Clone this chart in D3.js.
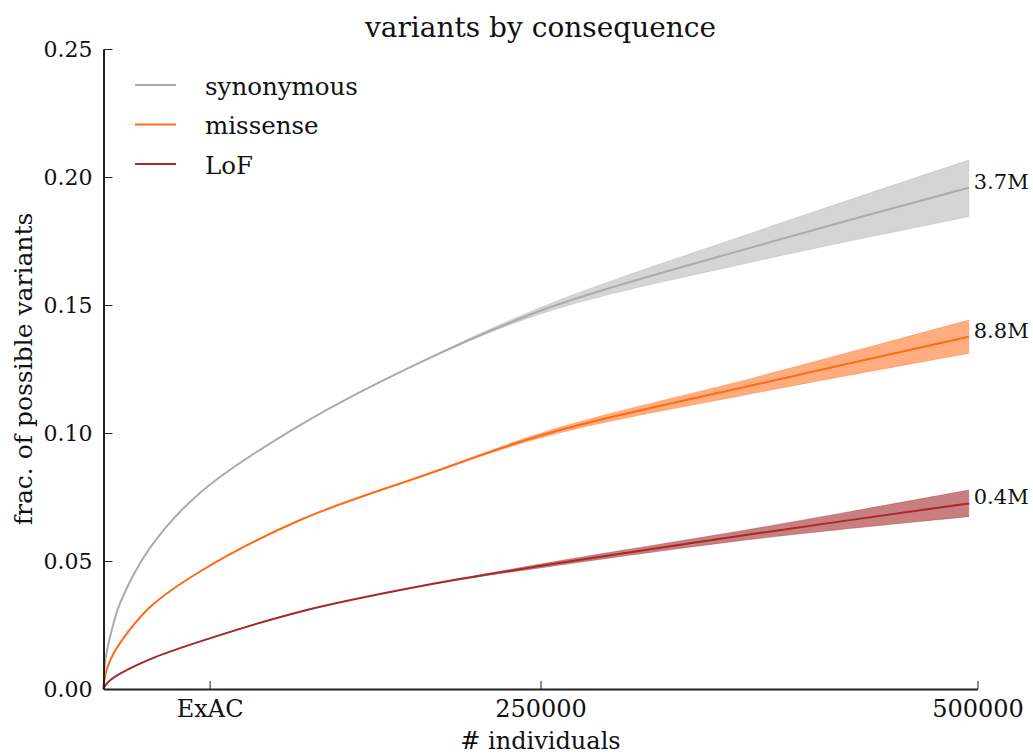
<!DOCTYPE html>
<html>
<head>
<meta charset="utf-8">
<script src="https://cdn.jsdelivr.net/npm/d3@7"></script>
<style>
  body { margin: 0; background: #fff; }
  text { font-family: "DejaVu Serif", serif; fill: #111; }
</style>
</head>
<body>
<div class="canvas"></div>
<script>
// number of individuals sampled
const sizes = [0, 1000, 4000, 9500, 26500, 55000, 112500, 184000, 255000, 375000, 495000]

// fraction of possible variants observed (mid, low, high)
const synMid = [0, 0.0110, 0.0210, 0.0335, 0.0550, 0.0765, 0.1031, 0.1285, 0.1490, 0.1733, 0.1958]
const synLow = [0, 0.0110, 0.0210, 0.0335, 0.0550, 0.0765, 0.1031, 0.1283, 0.1476, 0.1674, 0.1845]
const synHigh = [0, 0.0110, 0.0210, 0.0335, 0.0550, 0.0765, 0.1031, 0.1287, 0.1504, 0.1791, 0.2066]

const misMid = [0, 0.0055, 0.0115, 0.0180, 0.0319, 0.0458, 0.0660, 0.0836, 0.1000, 0.1192, 0.1376]
const misLow = [0, 0.0055, 0.0115, 0.0180, 0.0319, 0.0458, 0.0660, 0.0835, 0.0990, 0.1159, 0.1311]
const misHigh = [0, 0.0055, 0.0115, 0.0180, 0.0319, 0.0458, 0.0660, 0.0837, 0.1010, 0.1221, 0.1441]

const lofMid = [0, 0.0014, 0.0035, 0.0060, 0.0116, 0.0185, 0.0302, 0.0405, 0.0486, 0.0609, 0.0725]
const lofLow = [0, 0.0014, 0.0035, 0.0060, 0.0116, 0.0185, 0.0302, 0.0404, 0.0478, 0.0588, 0.0673]
const lofHigh = [0, 0.0014, 0.0035, 0.0060, 0.0116, 0.0185, 0.0302, 0.0406, 0.0494, 0.0630, 0.0777]

const names = ['synonymous', 'missense', 'LoF']
const endLabels = ['3.7M', '8.8M', '0.4M']

const xTicks = [60706, 250000, 500000]
const yTicks = [0, 0.05, 0.10, 0.15, 0.20, 0.25]

const colours = ['#ababab', '#ff6a14', '#a52a2a']
const bandOpacity = [0.5, 0.55, 0.6]

const series = [
    { name: names[0], mid: synMid, low: synLow, high: synHigh, label: endLabels[0] },
    { name: names[1], mid: misMid, low: misLow, high: misHigh, label: endLabels[1] },
    { name: names[2], mid: lofMid, low: lofLow, high: lofHigh, label: endLabels[2] }
]

const dims = { width: 1033, height: 755 }
const margin = { left: 103.5, right: 55.5, top: 49, bottom: 66 }

const svg = d3.select('.canvas')
    .append('svg')
    .attr('width', dims.width)
    .attr('height', dims.height)

const x = d3.scaleLinear()
    .domain([0, 500000])
    .range([margin.left, dims.width - margin.right])

const y = d3.scaleLinear()
    .domain([0, 0.25])
    .range([dims.height - margin.bottom, margin.top])

const smooth = d3.curveCatmullRom.alpha(0.5)

const line = d3.line()
    .x(d => x(d.n))
    .y(d => y(d.v))
    .curve(smooth)

const area = d3.area()
    .x(d => x(d.n))
    .y0(d => y(d.lo))
    .y1(d => y(d.hi))
    .curve(smooth)

//bands first, then lines on top
series.forEach((s, i) => {
    const pts = sizes.map((n, j) => ({ n, v: s.mid[j], lo: s.low[j], hi: s.high[j] }))

    svg.append('path')
        .attr('d', area(pts))
        .attr('fill', colours[i])
        .attr('fill-opacity', bandOpacity[i])
        .attr('stroke', colours[i])
        .attr('stroke-opacity', 0.4)
        .attr('stroke-width', 0.8)
})

series.forEach((s, i) => {
    const pts = sizes.map((n, j) => ({ n, v: s.mid[j] }))

    svg.append('path')
        .attr('d', line(pts))
        .attr('fill', 'none')
        .attr('stroke', colours[i])
        .attr('stroke-width', 2)

    const last = pts[pts.length - 1]
    svg.append('text')
        .attr('x', x(last.n) + 5)
        .attr('y', y(last.v) + 1)
        .attr('font-size', 21)
        .text(s.label)
})

//axes with inward ticks
const yAxis = d3.axisLeft(y)
    .tickValues(yTicks)
    .tickFormat(d3.format('.2f'))
    .tickSizeInner(-9)
    .tickSizeOuter(0)
    .tickPadding(11)

const xAxis = d3.axisBottom(x)
    .tickValues(xTicks)
    .tickFormat(d => d === 60706 ? 'ExAC' : d3.format('d')(d))
    .tickSizeInner(-8)
    .tickSizeOuter(0)
    .tickPadding(11)

const gy = svg.append('g')
    .attr('transform', `translate(${margin.left}, 0)`)
    .call(yAxis)

const gx = svg.append('g')
    .attr('transform', `translate(0, ${dims.height - margin.bottom})`)
    .call(xAxis)

;[gx, gy].forEach(g => {
    g.select('.domain').attr('stroke', '#222').attr('stroke-width', 2)
    g.selectAll('.tick line').attr('stroke', '#222').attr('stroke-width', 1)
    g.selectAll('.tick text')
        .attr('fill', '#111')
        .style('font-family', '"DejaVu Serif", serif')
})
gy.selectAll('.tick text').attr('font-size', 22)
gx.selectAll('.tick text').attr('font-size', 24)

//title and axis labels
svg.append('text')
    .attr('x', (x.range()[0] + x.range()[1]) / 2)
    .attr('y', 37)
    .attr('text-anchor', 'middle')
    .attr('font-size', 28)
    .text('variants by consequence')

svg.append('text')
    .attr('x', (x.range()[0] + x.range()[1]) / 2)
    .attr('y', 749)
    .attr('text-anchor', 'middle')
    .attr('font-size', 24)
    .text('# individuals')

svg.append('text')
    .attr('transform', `translate(32, ${(y.range()[0] + y.range()[1]) / 2}) rotate(-90)`)
    .attr('text-anchor', 'middle')
    .attr('font-size', 25)
    .text('frac. of possible variants')

//legend
const legend = svg.append('g')
    .attr('transform', 'translate(135, 85)')

names.forEach((name, i) => {
    const row = legend.append('g')
        .attr('transform', `translate(0, ${i * 39.5})`)
    row.append('line')
        .attr('x1', 0).attr('x2', 41)
        .attr('stroke', colours[i])
        .attr('stroke-width', 2)
    row.append('text')
        .attr('x', 70)
        .attr('y', 9.5)
        .attr('font-size', 24.5)
        .text(name)
})
</script>
</body>
</html>
